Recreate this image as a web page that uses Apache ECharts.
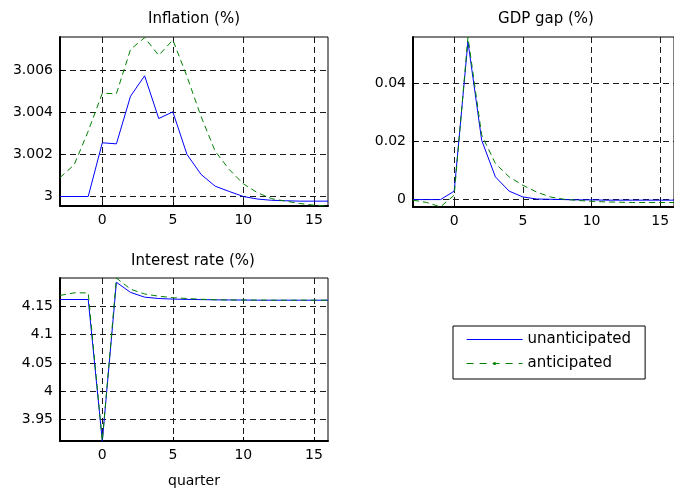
<!DOCTYPE html>
<html>
<head>
<meta charset="utf-8">
<script src="https://cdn.jsdelivr.net/npm/echarts@6/dist/echarts.min.js"></script>
<style>
  html, body { margin: 0; padding: 0; background: #fff; }
  #main { width: 674px; height: 489px; }
</style>
</head>
<body>
<div id="main"></div>
<script>
// quarters -3 .. 16
var quarters = [-3, -2, -1, 0, 1, 2, 3, 4, 5, 6, 7, 8, 9, 10, 11, 12, 13, 14, 15, 16];

var inflUnant = [3.0, 3.0, 3.0, 3.00255, 3.0025, 3.00476, 3.00573, 3.0037, 3.00402, 3.002,
  3.00105, 3.00049, 3.00024, 3.0, 2.99988, 2.99982, 2.9998, 2.99978, 2.99978, 2.99978];
var inflAnt = [3.0009, 3.0015, 3.0031, 3.0049, 3.00488, 3.00698, 3.00754, 3.0067, 3.00743, 3.0057,
  3.0038, 3.00215, 3.00128, 3.0006, 3.00018, 2.9999, 2.99978, 2.99967, 2.99959, 2.99954];

var gapUnant = [0, 0, 0, 0.0029, 0.0543, 0.0204, 0.0078, 0.0029, 0.0009, 0.0002,
  0.0001, 0, -0.0001, -0.0001, -0.0002, -0.0002, -0.0002, -0.0002, -0.0002, -0.0002];
var gapAnt = [-0.0002, -0.001, -0.0025, 0.0015, 0.0559, 0.0222, 0.0124, 0.0078, 0.0049, 0.0026,
  0.0009, 0.0001, -0.0003, -0.0006, -0.0008, -0.0009, -0.001, -0.001, -0.001, -0.001];

var rateUnant = [4.1618, 4.1618, 4.1618, 3.9123, 4.1922, 4.1743, 4.1659, 4.1635, 4.1625, 4.162,
  4.1616, 4.1612, 4.161, 4.1608, 4.1606, 4.1605, 4.1605, 4.1605, 4.1605, 4.1605];
var rateAnt = [4.169, 4.1735, 4.1735, 3.9125, 4.1997, 4.18, 4.1715, 4.1676, 4.165, 4.1635,
  4.1622, 4.1613, 4.161, 4.1608, 4.1607, 4.1606, 4.1606, 4.1606, 4.1606, 4.1606];

var xTicks = [0, 5, 10, 15];
var inflTicks = [3, 3.002, 3.004, 3.006];
var gapTicks = [0, 0.02, 0.04];
var rateTicks = [3.95, 4, 4.05, 4.1, 4.15];

var titles = ['Inflation (%)', 'GDP gap (%)', 'Interest rate (%)'];

var FONT = 'DejaVu Sans';

function pairs(ys) {
  var out = [];
  for (var i = 0; i < quarters.length; i++) {
    out.push([quarters[i], ys[i]]);
  }
  return out;
}

var gridLine = { show: true, lineStyle: { color: '#1a1a1a', type: [6, 4], width: 1 } };

function xAxisFor(idx, name) {
  return {
    type: 'value',
    gridIndex: idx,
    min: -3,
    max: 16,
    name: name || '',
    nameLocation: 'middle',
    nameGap: 33,
    nameTextStyle: { color: '#000', fontFamily: FONT, fontSize: 14 },
    axisLine: { onZero: false, lineStyle: { color: '#000', width: 2 } },
    axisTick: { inside: true, length: 4, customValues: xTicks, lineStyle: { color: '#000' } },
    axisLabel: { customValues: xTicks, margin: 7, color: '#000', fontFamily: FONT, fontSize: 14 },
    splitLine: gridLine
  };
}

function yAxisFor(idx, min, max, ticks, digits) {
  return {
    type: 'value',
    gridIndex: idx,
    min: min,
    max: max,
    axisLine: { show: true, onZero: false, lineStyle: { color: '#000', width: 2 } },
    axisTick: { show: true, inside: true, length: 4, customValues: ticks, lineStyle: { color: '#000' } },
    axisLabel: {
      customValues: ticks,
      margin: 7,
      color: '#000',
      fontFamily: FONT,
      fontSize: 14,
      formatter: function (v) { return String(+v.toFixed(digits)); }
    },
    splitLine: gridLine
  };
}

function unantSeries(idx, ys) {
  return {
    name: 'unanticipated',
    type: 'line',
    xAxisIndex: idx,
    yAxisIndex: idx,
    data: pairs(ys),
    symbol: 'none',
    lineStyle: { color: '#0000ff', width: 1 },
    itemStyle: { color: '#0000ff' }
  };
}

function antSeries(idx, ys) {
  return {
    name: 'anticipated',
    type: 'line',
    xAxisIndex: idx,
    yAxisIndex: idx,
    data: pairs(ys),
    symbol: 'circle',
    symbolSize: 4,
    showSymbol: false,
    lineStyle: { color: '#008000', width: 1, type: [6, 4] },
    itemStyle: { color: '#008000' }
  };
}

var chart = echarts.init(document.getElementById('main'), null, { renderer: 'canvas' });

var option = {
  animation: false,
  backgroundColor: '#fff',
  grid: [
    { left: 60, top: 37, width: 268, height: 169, show: true, borderColor: '#000', borderWidth: 1 },
    { left: 413, top: 37, width: 268, height: 170, show: true, borderColor: '#000', borderWidth: 1 },
    { left: 60, top: 278, width: 268, height: 170, show: true, borderColor: '#000', borderWidth: 1 }
  ],
  graphic: [
    { type: 'text', x: 194, y: 19, style: { text: titles[0], fill: '#000', font: '15px "DejaVu Sans"', align: 'center', verticalAlign: 'middle' } },
    { type: 'text', x: 546, y: 19, style: { text: titles[1], fill: '#000', font: '15px "DejaVu Sans"', align: 'center', verticalAlign: 'middle' } },
    { type: 'text', x: 193, y: 261, style: { text: titles[2], fill: '#000', font: '15px "DejaVu Sans"', align: 'center', verticalAlign: 'middle' } }
  ],
  legend: {
    orient: 'vertical',
    left: 453,
    top: 326,
    padding: [6, 14, 8, 13],
    itemGap: 9,
    itemWidth: 56,
    itemHeight: 4,
    borderColor: '#000',
    borderWidth: 1,
    backgroundColor: '#fff',
    textStyle: { color: '#000', fontFamily: FONT, fontSize: 15, lineHeight: 14 },
    data: [
      { name: 'unanticipated', lineStyle: { width: 1.2 }, itemStyle: { opacity: 0 } },
      { name: 'anticipated', lineStyle: { type: [7, 6], width: 1 } }
    ]
  },
  xAxis: [xAxisFor(0), xAxisFor(1), xAxisFor(2, 'quarter')],
  yAxis: [
    yAxisFor(0, 2.99955, 3.00757, inflTicks, 3),
    yAxisFor(1, -0.00255, 0.0559, gapTicks, 2),
    yAxisFor(2, 3.9123, 4.1997, rateTicks, 2)
  ],
  series: [
    unantSeries(0, inflUnant), antSeries(0, inflAnt),
    unantSeries(1, gapUnant), antSeries(1, gapAnt),
    unantSeries(2, rateUnant), antSeries(2, rateAnt)
  ]
};
chart.setOption(option);
</script>
</body>
</html>
